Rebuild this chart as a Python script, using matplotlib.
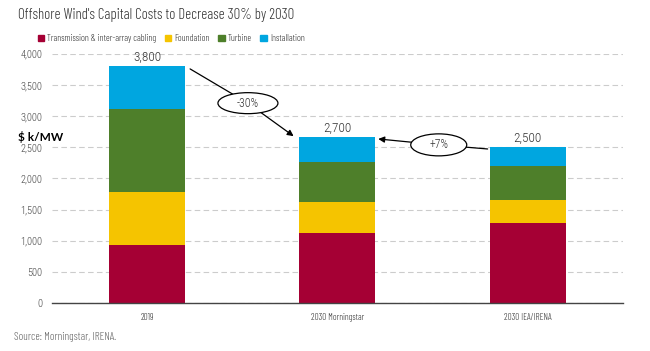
import matplotlib
matplotlib.use("Agg")
import matplotlib.pyplot as plt
from matplotlib.patches import Patch, Ellipse
import numpy as np

categories = ["2019", "2030 Morningstar", "2030 IEA/IRENA"]
series_names = ["Transmission & inter-array cabling", "Foundation", "Turbine", "Installation"]
transmission = [935, 1120, 1280]
foundation = [855, 500, 370]
turbine = [1330, 650, 545]
installation = [680, 390, 305]
totals_labels = ["3,800", "2,700", "2,500"]
yticks = [0, 500, 1000, 1500, 2000, 2500, 3000, 3500, 4000]

colors = ["#A50034", "#F5C400", "#4E7F2A", "#00A6E0"]
cond = ["Roboto Condensed", "DejaVu Sans"]
narrow = ["Barlow Condensed", "Roboto Condensed", "DejaVu Sans"]
cw = 300

fig = plt.figure(figsize=(6.5, 3.51), dpi=100)
ax = fig.add_axes([0.08, 0.1368, 0.878, 0.7094])

x = np.arange(len(categories))
bottom = np.zeros(len(categories))
for vals, c in zip([transmission, foundation, turbine, installation], colors):
    ax.bar(x, vals, width=0.4, bottom=bottom, color=c, zorder=3)
    bottom += np.array(vals)

for xi, top, lab in zip(x, bottom, totals_labels):
    ax.text(xi, top + 50, lab, ha="center", va="bottom", fontsize=9.5,
            family=cond, weight=cw, color="#333333")

ax.set_xlim(-0.5, 2.5)
ax.set_ylim(0, 4000)
ax.set_yticks(yticks)
ax.set_yticklabels([f"{v:,}" for v in yticks], family=cond, weight=cw, fontsize=7.5, color="#444444")
ax.set_xticks(x)
ax.set_xticklabels(categories, family=narrow, weight=cw, fontsize=6.6, color="#333333")
ax.tick_params(axis="y", length=0, pad=7)
ax.tick_params(axis="x", length=0, pad=7)
ax.grid(axis="y", color="#cccccc", linestyle=(0, (5, 3)), linewidth=0.8, zorder=0)
for s in ["top", "right", "left"]:
    ax.spines[s].set_visible(False)
ax.spines["bottom"].set_color("#444444")
ax.spines["bottom"].set_linewidth(1.0)
ax.spines["bottom"].set_zorder(4)


def callout(label, center, w_px, h_px, line_from, arrow_to):
    # ellipse sized in pixels, lines clipped to its boundary
    cdisp = ax.transData.transform(center)
    sx = w_px / (ax.transData.transform((1, 0))[0] - ax.transData.transform((0, 0))[0])
    sy = h_px / (ax.transData.transform((0, 1))[1] - ax.transData.transform((0, 0))[1])
    ax.add_patch(Ellipse(center, sx, sy, fc="white", ec="black", lw=0.9, zorder=6))
    ax.text(center[0], center[1], label, ha="center", va="center", fontsize=8.5,
            family=cond, weight=cw, color="#333333", zorder=7)

    def edge(pt):
        d = ax.transData.transform(pt) - cdisp
        t = 1.0 / np.sqrt((d[0] / (w_px / 2)) ** 2 + (d[1] / (h_px / 2)) ** 2)
        return ax.transData.inverted().transform(cdisp + t * d)

    ax.annotate("", xy=line_from, xytext=edge(line_from),
                arrowprops=dict(arrowstyle="-", color="black", lw=0.9,
                                shrinkA=0, shrinkB=0), zorder=5)
    ax.annotate("", xy=arrow_to, xytext=edge(arrow_to),
                arrowprops=dict(arrowstyle="-|>", color="black", lw=0.9,
                                mutation_scale=9, shrinkA=0, shrinkB=0), zorder=5)


callout("-30%", (0.53, 3210), 60, 21, (0.226, 3760), (0.77, 2680))
callout("+7%", (1.533, 2540), 56, 22, (1.79, 2474), (1.215, 2635))

fig.text(0.028, 0.957, "Offshore Wind's Capital Costs to Decrease 30% by 2030",
         fontsize=10.7, family=narrow, weight=cw, color="#333333", ha="left", va="center")
fig.text(0.028, 0.609, "$ k/MW", fontsize=8.5, fontweight="bold", color="black",
         ha="left", va="center", family=["Lato", "DejaVu Sans"])
fig.text(0.022, 0.04, "Source: Morningstar, IRENA.", fontsize=8, family=narrow, weight=cw,
         color="#666666", ha="left", va="center")

handles = [Patch(color=c) for c in colors]
leg = fig.legend(handles, series_names, loc="center left", bbox_to_anchor=(0.045, 0.889),
                 ncol=4, frameon=False, handlelength=0.7, handleheight=0.7,
                 handletextpad=0.3, columnspacing=0.9,
                 prop={"family": narrow, "size": 6.8, "weight": cw})
for t in leg.get_texts():
    t.set_color("#333333")

fig.savefig("out.png", dpi=100)
